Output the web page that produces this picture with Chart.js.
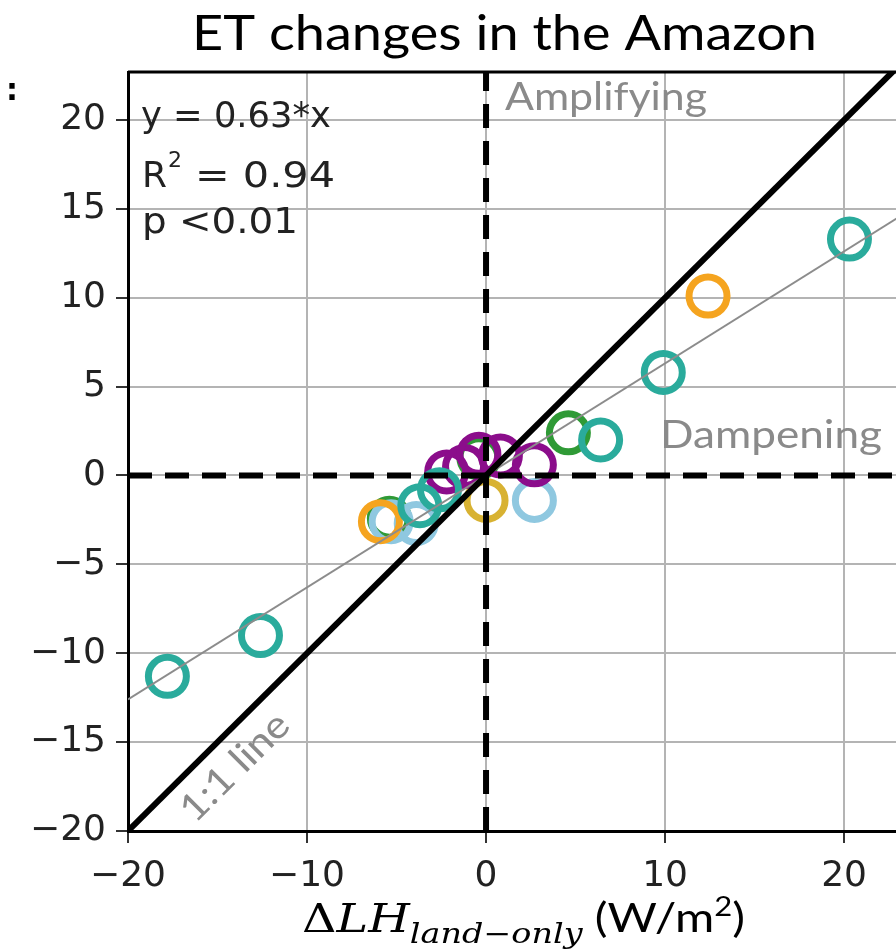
<!DOCTYPE html>
<html>
<head>
<meta charset="utf-8">
<script src="https://cdn.jsdelivr.net/npm/chart.js@4.4.1/dist/chart.umd.min.js"></script>
<style>
  html, body { margin: 0; padding: 0; background: #fff; }
  #wrap { width: 896px; height: 952px; position: relative; overflow: hidden; }
</style>
</head>
<body>
<div id="wrap"><canvas id="etChart" width="896" height="952"></canvas></div>
<script>
// axis ranges and ticks
const xRange = [-20, 22.9];
const yRange = [-20, 22.7];
const xStep = 10;
const yStep = 5;

// points, grouped by colour
const tealX = [20.3, 9.9, 6.4, -3.7, -2.6, -12.6, -17.8];
const tealY = [13.3, 5.8, 2.0, -1.7, -0.8, -9.0, -11.3];
const orangeX = [12.4, -5.9];
const orangeY = [10.1, -2.6];
const greenX = [4.6, -5.4, -0.4];
const greenY = [2.4, -2.4, 1.0];
const lightBlueX = [2.7, -5.3, -3.9];
const lightBlueY = [-1.4, -2.6, -2.7];
const goldX = [0.0];
const goldY = [-1.4];
const purpleX = [-2.2, -1.2, -0.4, 0.8, 2.7];
const purpleY = [0.2, 0.5, 1.2, 1.1, 0.6];

// reference lines
const oneToOneX = [-20, 23];
const oneToOneY = [-20, 23];
const fitX = [-20, 23];
const fitY = [-12.6, 14.5];
const zeroVX = [0, 0];
const zeroVY = [-20, 23];
const zeroHX = [-20, 23];
const zeroHY = [0, 0];

const pts = (xs, ys) => xs.map((x, i) => ({ x: x, y: ys[i] }));
const minus = v => String(v).replace("-", "\u2212");

function pointSet(label, xs, ys, color, order) {
  return {
    label: label,
    data: pts(xs, ys),
    pointRadius: 19,
    pointBorderWidth: 7,
    pointBorderColor: color,
    pointBackgroundColor: "rgba(0,0,0,0)",
    pointHoverRadius: 19,
    showLine: false,
    order: order,
  };
}

function lineSet(label, xs, ys, color, width, dash, order) {
  return {
    label: label,
    data: pts(xs, ys),
    showLine: true,
    borderColor: color,
    borderWidth: width,
    borderDash: dash,
    pointRadius: 0,
    fill: false,
    order: order,
  };
}

// draw text squeezed/stretched to a given width
function fitText(ctx, text, x, y, width) {
  const w = ctx.measureText(text).width;
  ctx.save();
  ctx.translate(x, y);
  ctx.scale(width / w, 1);
  ctx.fillText(text, 0, 0);
  ctx.restore();
}

//texts drawn on top
const textPlugin = {
  id: "texts",
  afterDraw(chart) {
    const ctx = chart.ctx;
    const { top, left, right } = chart.chartArea;
    ctx.save();
    // top frame
    ctx.strokeStyle = "#000";
    ctx.lineWidth = 3;
    ctx.beginPath();
    ctx.moveTo(left, top);
    ctx.lineTo(right, top);
    ctx.stroke();

    ctx.textAlign = "left";
    ctx.textBaseline = "alphabetic";

    // title
    ctx.fillStyle = "#000";
    ctx.font = "48px Lato";
    fitText(ctx, "ET changes in the Amazon", 192, 50, 625);

    // cut-off y label remnant
    ctx.font = "bold 30px 'DejaVu Sans'";
    ctx.fillText(":", 6, 100);

    // equation
    ctx.fillStyle = "#222";
    ctx.font = "36px 'DejaVu Sans'";
    fitText(ctx, "y = 0.63*x", 141, 127, 190);
    ctx.fillText("R", 142, 187);
    ctx.font = "22px 'DejaVu Sans'";
    ctx.fillText("2", 168, 167);
    ctx.font = "36px 'DejaVu Sans'";
    fitText(ctx, "= 0.94", 195, 187, 140);
    fitText(ctx, "p <0.01", 142, 233, 156);

    // region labels
    ctx.fillStyle = "#8a8a8a";
    ctx.font = "38px Lato";
    fitText(ctx, "Amplifying", 505, 110, 202);
    fitText(ctx, "Dampening", 660, 448, 222);
    ctx.save();
    ctx.translate(234, 767);
    ctx.rotate(-Math.PI / 4);
    ctx.font = "38px Lato";
    fitText(ctx, "1:1 line", -68, 13, 137);
    ctx.restore();

    // x axis label, built from pieces then stretched to its width
    ctx.fillStyle = "#000";
    const parts = [
      { t: "\u0394", f: "40px 'DejaVu Serif'", dy: 0 },
      { t: "LH", f: "italic 40px 'DejaVu Serif'", dy: 0 },
      { t: "land\u2212only", f: "italic 28px 'DejaVu Serif'", dy: 11 },
      { t: " ", f: "40px Lato", dy: 0 },
      { t: "(W/m", f: "40px Lato", dy: 0 },
      { t: "2", f: "26px Lato", dy: -16 },
      { t: ")", f: "40px Lato", dy: 0 },
    ];
    let total = 0;
    parts.forEach(p => {
      ctx.font = p.f;
      p.w = ctx.measureText(p.t).width;
      total += p.w;
    });
    ctx.save();
    ctx.translate(302, 932);
    ctx.scale(443 / total, 1);
    let x = 0;
    parts.forEach(p => {
      ctx.font = p.f;
      ctx.fillText(p.t, x, p.dy);
      x += p.w;
    });
    ctx.restore();
    ctx.restore();
  },
};

function makeConfig() {
  return {
    type: "scatter",
    data: {
      datasets: [
        lineSet("1:1", oneToOneX, oneToOneY, "#000", 6, [], 0),
        lineSet("x=0", zeroVX, zeroVY, "#000", 6, [24, 13], 1),
        lineSet("y=0", zeroHX, zeroHY, "#000", 6, [24, 13], 1),
        lineSet("fit", fitX, fitY, "#8c8c8c", 2, [], 2),
        pointSet("teal", tealX, tealY, "#2aab9c", 3),
        pointSet("orange", orangeX, orangeY, "#f5a41f", 4),
        pointSet("lightblue", lightBlueX, lightBlueY, "#8fc8e0", 5),
        pointSet("gold", goldX, goldY, "#d8b232", 6),
        pointSet("purple", purpleX, purpleY, "#8b0d8b", 3),
        pointSet("green", greenX, greenY, "#2f9a36", 7),
      ],
    },
    plugins: [textPlugin],
    options: {
      responsive: false,
      animation: false,
      layout: { padding: { top: 72, right: 0, left: 0, bottom: 0 } },
      plugins: {
        legend: { display: false },
        tooltip: { enabled: false },
        title: { display: false },
      },
      scales: {
        x: {
          type: "linear",
          min: xRange[0],
          max: xRange[1],
          afterFit(scale) {
            scale.height = 121;
          },
          ticks: {
            stepSize: xStep,
            includeBounds: false,
            autoSkip: false,
            maxRotation: 0,
            padding: 12,
            color: "#222",
            font: { family: "DejaVu Sans", size: 36 },
            callback: minus,
          },
          grid: {
            color: "#b4b4b4",
            lineWidth: 2,
            tickColor: "#333",
            tickLength: 12,
            tickWidth: 2,
          },
          border: { display: true, color: "#000", width: 3 },
        },
        y: {
          type: "linear",
          min: yRange[0],
          max: yRange[1],
          afterFit(scale) {
            scale.width = 128;
          },
          ticks: {
            stepSize: yStep,
            includeBounds: false,
            autoSkip: false,
            padding: 10,
            color: "#222",
            font: { family: "DejaVu Sans", size: 36 },
            callback: minus,
          },
          grid: {
            color: "#b4b4b4",
            lineWidth: 2,
            tickColor: "#333",
            tickLength: 12,
            tickWidth: 2,
          },
          border: { display: true, color: "#000", width: 3 },
        },
      },
    },
  };
}

const canvas = document.getElementById("etChart");
let chart = new Chart(canvas, makeConfig());

// the plot runs off the right edge in the original: widen the canvas
// by the label padding Chart.js keeps, and let the wrapper cut it off
const gap = 896 - chart.chartArea.right;
if (gap > 0.5) {
  chart.destroy();
  canvas.width = Math.round(896 + gap);
  canvas.height = 952;
  canvas.style.width = canvas.width + "px";
  canvas.style.height = "952px";
  chart = new Chart(canvas, makeConfig());
}
</script>
</body>
</html>
